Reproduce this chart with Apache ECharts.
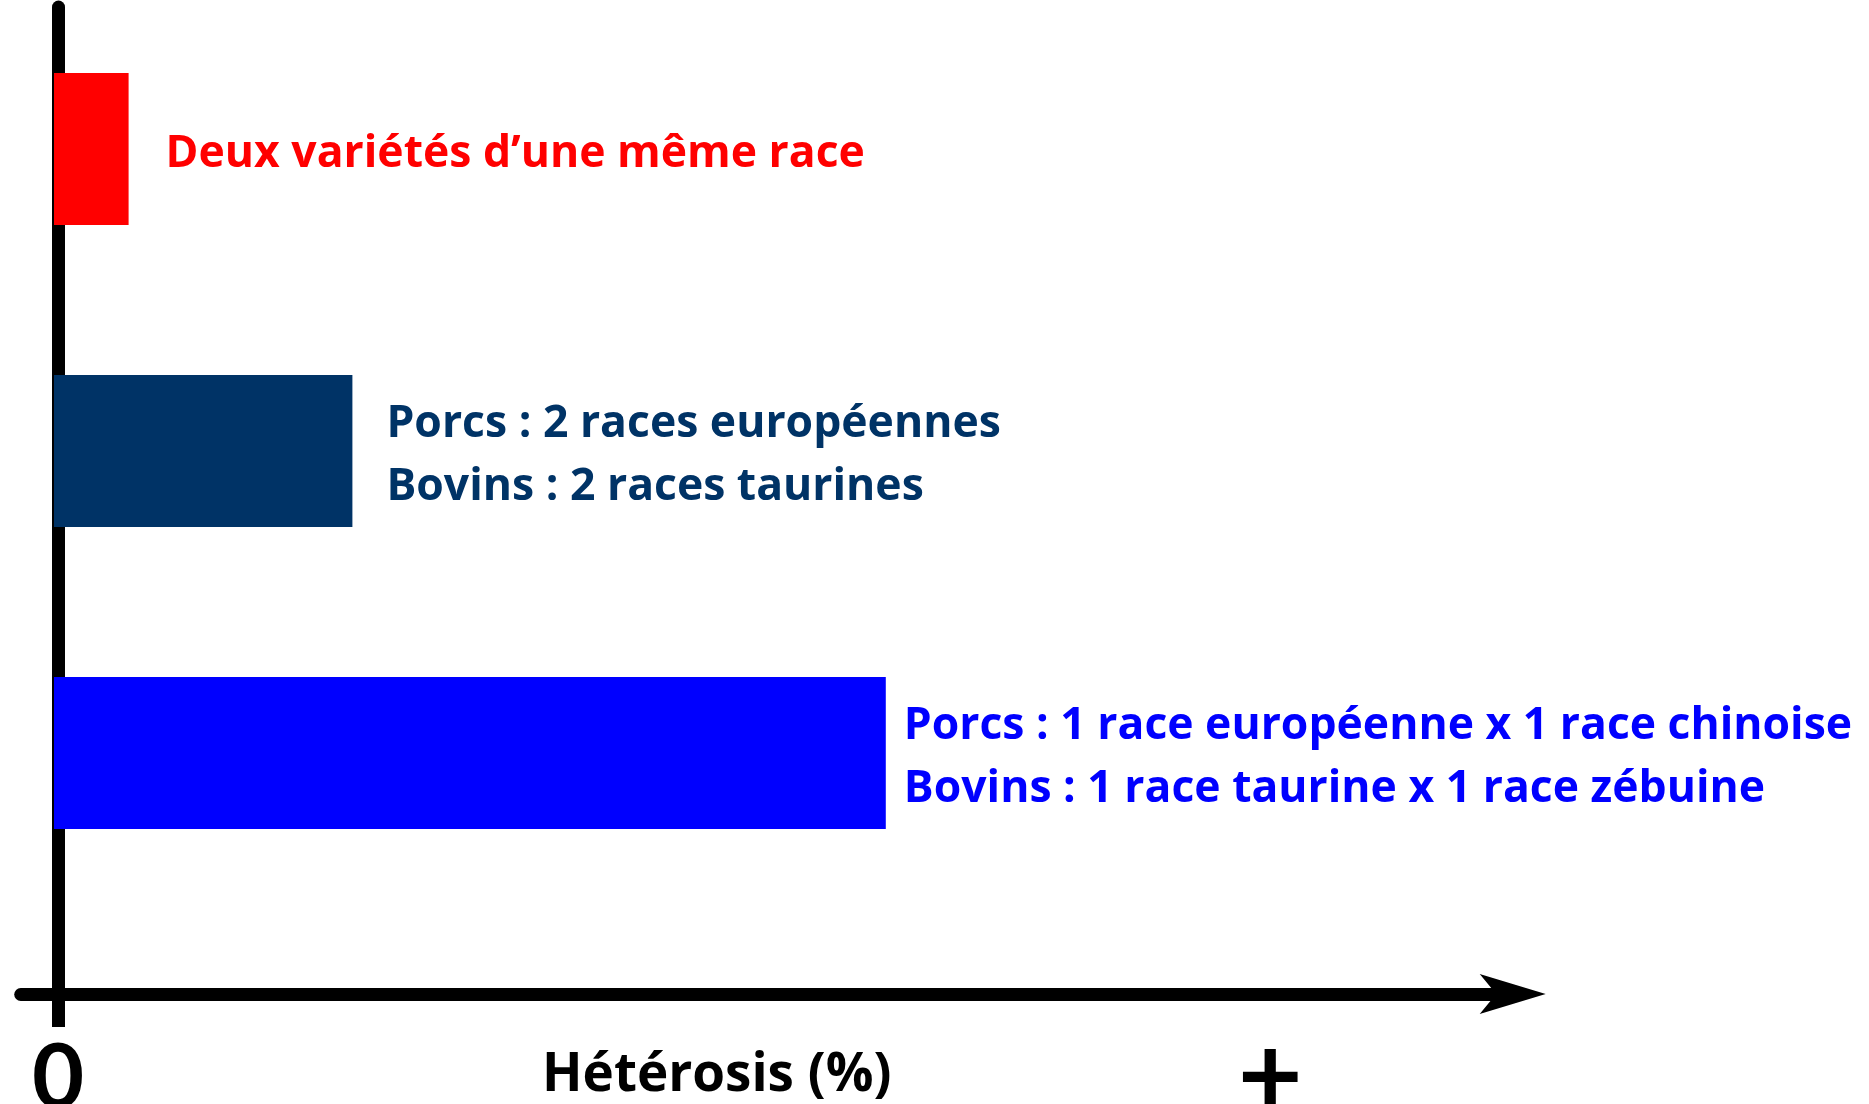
<!DOCTYPE html>
<html>
<head>
<meta charset="utf-8">
<script src="https://cdn.jsdelivr.net/npm/echarts@6/dist/echarts.min.js"></script>
<style>
  html, body { margin: 0; padding: 0; background: #fff; }
  #chart { width: 1869px; height: 1104px; }
</style>
</head>
<body>
<div id="chart"></div>
<script>
// data
var categories = ['Variétés', 'Races européennes', 'Européenne x chinoise'];
var heterosis = [2, 8, 22.3];
var barColors = ['#ff0000', '#003366', '#0000ff'];
var barLabels = [
  'Deux variétés d’une même race',
  'Porcs : 2 races européennes\nBovins : 2 races taurines',
  'Porcs : 1 race européenne x 1 race chinoise\nBovins : 1 race taurine x 1 race zébuine'
];
var tickValues = [0, 32.5];
var tickLabels = ['0', '+'];
var axisTitle = 'Hétérosis (%)';

// gap between each bar and its text
var labelGaps = [37, 34, 18];
var FONT = '"Open Sans"';

var dom = document.getElementById('chart');
var myChart = echarts.init(dom, null, { renderer: 'canvas' });

var seriesData = heterosis.map(function (v, i) {
  return {
    value: v,
    itemStyle: { color: barColors[i] },
    label: { color: barColors[i], formatter: barLabels[i], distance: labelGaps[i] }
  };
});

var option = {
  animation: false,
  backgroundColor: '#fff',
  grid: [
    // bars
    { left: 16.7, right: 360.3, top: -2, height: 906, containLabel: false, outerBoundsMode: 'none' },
    // visible axes
    { left: 20.7, right: 356.3, top: 7, bottom: 110, containLabel: false, outerBoundsMode: 'none' }
  ],
  xAxis: [
    { type: 'value', gridIndex: 0, min: -1, max: 39, show: false },
    {
      type: 'value',
      gridIndex: 1,
      min: -1,
      max: 39,
      axisLine: {
        show: true,
        onZero: false,
        symbol: ['none', 'arrow'],
        symbolSize: [30, 66],
        symbolOffset: [0, 33],
        lineStyle: { color: '#000', width: 13 }
      },
      axisTick: {
        show: true,
        customValues: [0],
        length: 33,
        lineStyle: { color: '#000', width: 13 }
      },
      splitLine: { show: false },
      axisLabel: {
        show: true,
        customValues: tickValues,
        margin: 36,
        hideOverlap: false,
        formatter: function (v) {
          return v === tickValues[0] ? '{zero|' + tickLabels[0] + '}' : '{plus|' + tickLabels[1] + '}';
        },
        rich: {
          zero: { fontFamily: 'Lato', fontWeight: 'bold', fontSize: 90, lineHeight: 98, color: '#000' },
          plus: { fontFamily: 'Lato', fontWeight: 'bold', fontSize: 112, lineHeight: 96, color: '#000' }
        }
      },
      name: axisTitle,
      nameLocation: 'middle',
      nameGap: 55,
      nameMoveOverlap: false,
      nameTextStyle: {
        fontFamily: FONT,
        fontWeight: 'bold',
        fontSize: 53,
        color: '#000',
        padding: [0, 100, 0, 0]
      }
    }
  ],
  yAxis: [
    {
      type: 'category',
      gridIndex: 0,
      inverse: true,
      data: categories,
      show: false
    },
    {
      type: 'value',
      gridIndex: 1,
      min: 0,
      max: 1,
      axisLine: { show: true, onZero: true, lineStyle: { color: '#000', width: 13 } },
      axisTick: { show: false },
      axisLabel: { show: false },
      splitLine: { show: false }
    }
  ],
  series: [
    {
      type: 'bar',
      xAxisIndex: 0,
      yAxisIndex: 0,
      barWidth: 152,
      data: seriesData,
      label: {
        show: true,
        position: 'right',
        offset: [0, 5],
        fontFamily: FONT,
        fontWeight: 'bold',
        fontSize: 44.5,
        lineHeight: 63,
        align: 'left'
      }
    }
  ]
};

myChart.setOption(option);
window.addEventListener('resize', myChart.resize);
</script>
</body>
</html>
